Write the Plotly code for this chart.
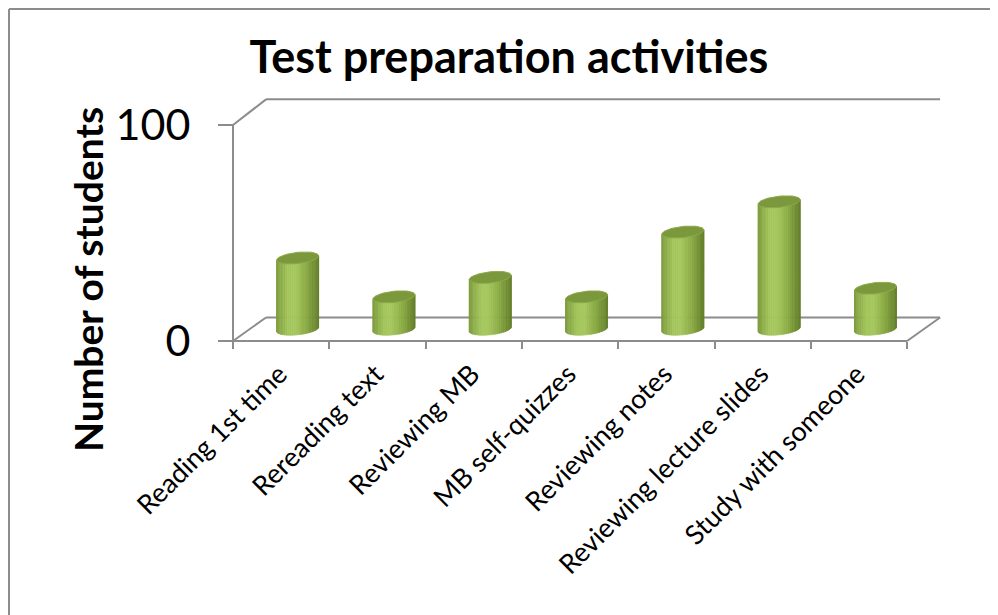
import numpy as np
import plotly.graph_objects as go

# ---------------- data ----------------
categories = ["Reading 1st time", "Rereading text", "Reviewing MB", "MB self-quizzes",
              "Reviewing notes", "Reviewing lecture slides", "Study with someone"]
students = [33, 15, 24, 15, 45, 59, 19]
y_tick_values = [0, 100]
chart_title = "Test preparation activities"
y_title = "Number of students"

# ---------------- geometry ----------------
OFF = 8                          # page body margin
W, H = 998, 615
L, R, T, B = 202, 40, 82, 271
pw, ph = W - L - R, H - T - B
px_per_cat = 96.3
px_per_val = 2.16
x0_px, y0_px = 233 - OFF, 341 - OFF   # front-left floor corner
u_min = -0.5 - (x0_px - L) / px_per_cat
u_max = u_min + pw / px_per_cat
v_min = -((H - B) - y0_px) / px_per_val
v_max = v_min + ph / px_per_val

D = 33 / px_per_cat              # depth offset (category units)
Dv = 23.5 / px_per_val           # depth offset (value units)

def px_to_paper_x(px):
    return (px - OFF - L) / pw

def px_to_paper_y(py):
    return ((H - B) - (py - OFF)) / ph

GRAY = "#8c8c8c"
FONT = "Lato"

fig = go.Figure()

# ---------------- cylinders ----------------
rx = 0.218
ry = 2.6
tilt = 1.0
N = 30
stops = [(0.0, (125, 155, 60)), (0.28, (163, 198, 92)), (0.45, (166, 200, 95)),
         (0.72, (138, 170, 68)), (0.9, (112, 142, 50)), (1.0, (100, 128, 44))]

def shade(s):
    for (s0, c0), (s1, c1) in zip(stops[:-1], stops[1:]):
        if s0 <= s <= s1:
            f = (s - s0) / (s1 - s0) if s1 > s0 else 0
            c = [round(a + (b - a) * f) for a, b in zip(c0, c1)]
            return "rgb(%d,%d,%d)" % tuple(c)
    return "rgb(%d,%d,%d)" % stops[-1][1]

thetas = np.linspace(0, np.pi, N + 1)
base = Dv / 2
for j in range(N):
    xs, ys = [], []
    t0, t1 = thetas[j], thetas[j + 1]
    for k, val in enumerate(students):
        cx = k + D / 2
        xa, xb = cx - rx * np.cos(t0), cx - rx * np.cos(t1)
        yba = base - ry * np.sin(t0) - tilt * np.cos(t0)
        ybb = base - ry * np.sin(t1) - tilt * np.cos(t1)
        top = base + val
        yta = top - tilt * np.cos(t0)
        ytb = top - tilt * np.cos(t1)
        xs += [xa, xb, xb, xa, xa, None]
        ys += [yba, ybb, ytb, yta, yba, None]
    s = (1 - np.cos((t0 + t1) / 2)) / 2
    col = shade(s)
    fig.add_trace(go.Scatter(x=xs, y=ys, mode="lines", fill="toself", fillcolor=col,
                             line=dict(color=col, width=0.6), hoverinfo="skip",
                             showlegend=False))

# top caps
cap_t = np.linspace(0, 2 * np.pi, 61)
cx_all, cy_all = [], []
for k, val in enumerate(students):
    cx = k + D / 2
    top = base + val
    cx_all += list(cx + rx * np.cos(cap_t)) + [None]
    cy_all += list(top + ry * np.sin(cap_t) + tilt * np.cos(cap_t)) + [None]
fig.add_trace(go.Scatter(x=cx_all, y=cy_all, mode="lines", fill="toself",
                         fillcolor="rgb(124,152,60)", line=dict(color="rgb(140,170,72)", width=1),
                         hoverinfo="skip", showlegend=False))

# dummy trace for the tick axis
fig.add_trace(go.Scatter(x=[u_min], y=[v_min], xaxis="x2", mode="markers",
                         marker=dict(opacity=0), hoverinfo="skip", showlegend=False))

# ---------------- walls / floor ----------------
n = len(categories)
top_v = y_tick_values[-1]
lines = [
    (-0.5, 0, n - 0.5, 0),
    (-0.5 + D, Dv, n - 0.5 + D, Dv),
    (-0.5, 0, -0.5 + D, Dv),
    (n - 0.5, 0, n - 0.5 + D, Dv),
    (-0.5, 0, -0.5, top_v),
    (-0.5, top_v, -0.5 + D, top_v + Dv + 1),
    (-0.5 + D, top_v + Dv + 1, n - 0.5 + D, top_v + Dv + 1),
]
for x0, y0, x1, y1 in lines:
    fig.add_shape(type="line", x0=x0, y0=y0, x1=x1, y1=y1, xref="x", yref="y",
                  line=dict(color=GRAY, width=2), layer="below")

# outer frame (as close to the page corner as the figure allows)
fx, fy = OFF + 1, OFF + 1
fig.add_shape(type="line", xref="paper", yref="paper",
              x0=px_to_paper_x(fx), y0=px_to_paper_y(fy), x1=px_to_paper_x(1010), y1=px_to_paper_y(fy),
              line=dict(color=GRAY, width=2))
fig.add_shape(type="line", xref="paper", yref="paper",
              x0=px_to_paper_x(fx), y0=px_to_paper_y(fy), x1=px_to_paper_x(fx), y1=px_to_paper_y(630),
              line=dict(color=GRAY, width=2))

# y-axis title
fig.add_annotation(text="<b>%s</b>" % y_title, xref="paper", yref="paper",
                   x=px_to_paper_x(88), y=px_to_paper_y(280), textangle=-90,
                   showarrow=False, font=dict(family=FONT, size=39, color="black"),
                   xanchor="center", yanchor="middle")

axis_pos_y = px_to_paper_y(341)
fig.update_layout(
    width=W, height=H,
    margin=dict(l=L, r=R, t=T, b=B),
    paper_bgcolor="white", plot_bgcolor="rgba(0,0,0,0)",
    title=dict(text="<b>%s</b>" % chart_title, x=(509 - OFF) / W, xanchor="center",
               y=1 - (57 - OFF) / H, yanchor="middle", yref="container",
               font=dict(family=FONT, size=45, color="black")),
    xaxis=dict(range=[u_min, u_max], tickmode="array", tickvals=[i - 0.02 for i in range(n)],
               ticktext=categories, tickangle=-45, ticks="", showgrid=False,
               zeroline=False, showline=False, anchor="free", position=axis_pos_y,
               tickfont=dict(family=FONT, size=27, color="black"), ticklabelstandoff=11),
    xaxis2=dict(range=[u_min, u_max], overlaying="x", tickmode="array",
                tickvals=[i - 0.5 for i in range(n + 1)], ticks="outside", ticklen=7,
                tickwidth=2, tickcolor=GRAY, showticklabels=False, showgrid=False,
                zeroline=False, showline=False, anchor="free", position=axis_pos_y, side="bottom"),
    yaxis=dict(range=[v_min, v_max], tickmode="array", tickvals=y_tick_values,
               ticks="outside", ticklen=15, tickwidth=2, tickcolor=GRAY,
               showgrid=False, zeroline=False, showline=False, anchor="free",
               position=px_to_paper_x(233), ticklabelstandoff=19,
               tickfont=dict(family=FONT, size=43, color="black")),
    showlegend=False,
)

fig.write_html("out.html")
